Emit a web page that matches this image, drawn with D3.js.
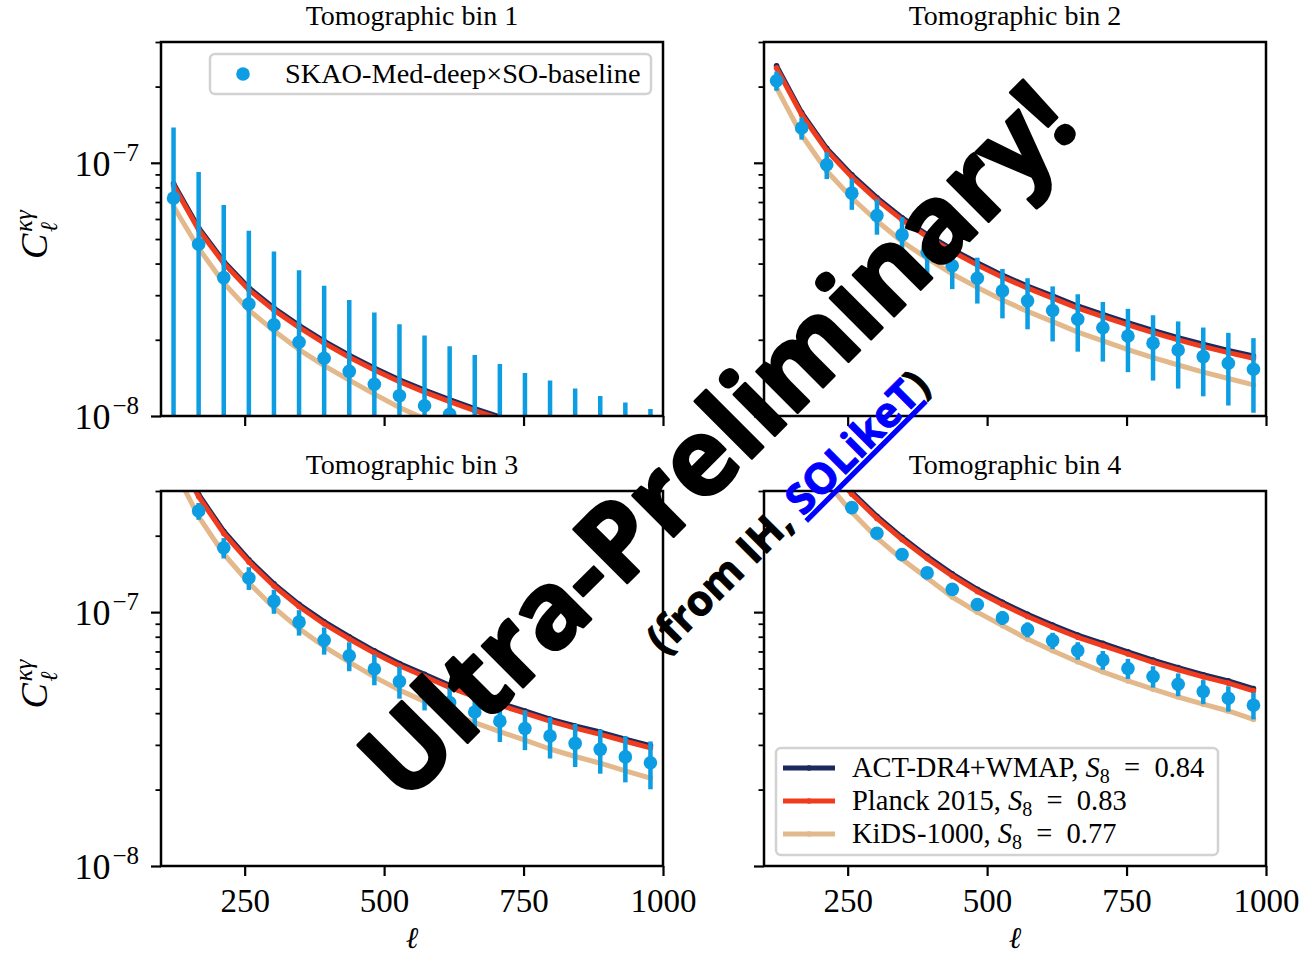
<!DOCTYPE html>
<html>
<head>
<meta charset="utf-8">
<script src="https://cdn.jsdelivr.net/npm/d3@7"></script>
<style>
body{margin:0;background:#fff}
svg{display:block}
</style>
</head>
<body>
<svg id="fig" width="1316" height="957"></svg>
<script>
// multipole bin centres (shared by all panels)
const ELL=[122.5,167.5,212.5,257.5,302.5,347.5,392.5,437.5,482.5,527.5,572.5,617.5,662.5,707.5,752.5,797.5,842.5,887.5,932.5,977.5];
const XLIM=[100,1000];
const YLIM=[1e-8,3e-7];
const XTICKS=[250,500,750,1000];
const YMAJOR=[1e-8,1e-7];
const YMINOR=[2e-8,3e-8,4e-8,5e-8,6e-8,7e-8,8e-8,9e-8,2e-7,3e-7];
const TITLES=["Tomographic bin 1","Tomographic bin 2","Tomographic bin 3","Tomographic bin 4"];

// bin 1
const ACT1=[8.28e-8,5.54e-8,4.08e-8,3.21e-8,2.67e-8,2.28e-8,1.975e-8,1.737e-8,1.547e-8,1.39e-8,1.265e-8,1.16e-8,1.07e-8,0.993e-8,0.925e-8,0.865e-8,0.81e-8,0.76e-8,0.715e-8,0.675e-8];
const PLANCK1=[8.13e-8,5.44e-8,4.01e-8,3.15e-8,2.62e-8,2.24e-8,1.94e-8,1.706e-8,1.52e-8,1.366e-8,1.243e-8,1.14e-8,1.05e-8,0.975e-8,0.908e-8,0.85e-8,0.795e-8,0.747e-8,0.703e-8,0.663e-8];
const KIDS1=[6.72e-8,4.60e-8,3.35e-8,2.62e-8,2.17e-8,1.83e-8,1.58e-8,1.385e-8,1.22e-8,1.08e-8,0.975e-8,0.89e-8,0.815e-8,0.75e-8,0.695e-8,0.645e-8,0.60e-8,0.56e-8,0.525e-8,0.495e-8];
const DATA1=[7.25e-8,4.77e-8,3.52e-8,2.77e-8,2.29e-8,1.956e-8,1.69e-8,1.50e-8,1.335e-8,1.203e-8,1.098e-8,1.016e-8,0.94e-8,0.875e-8,0.82e-8,0.77e-8,0.725e-8,0.685e-8,0.65e-8,0.615e-8];
const ERR1=[6.54e-8,4.42e-8,3.30e-8,2.62e-8,2.17e-8,1.81e-8,1.58e-8,1.37e-8,1.23e-8,1.10e-8,0.98e-8,0.87e-8,0.80e-8,0.73e-8,0.66e-8,0.61e-8,0.56e-8,0.515e-8,0.48e-8,0.45e-8];

// bin 2
const ACT2=[2.414e-7,1.579e-7,1.140e-7,8.96e-8,7.28e-8,6.07e-8,5.21e-8,4.55e-8,4.03e-8,3.60e-8,3.26e-8,2.98e-8,2.72e-8,2.52e-8,2.34e-8,2.18e-8,2.04e-8,1.92e-8,1.815e-8,1.725e-8];
const PLANCK2=[2.367e-7,1.548e-7,1.118e-7,8.78e-8,7.14e-8,5.95e-8,5.11e-8,4.46e-8,3.95e-8,3.53e-8,3.20e-8,2.92e-8,2.665e-8,2.47e-8,2.29e-8,2.135e-8,2.00e-8,1.88e-8,1.78e-8,1.69e-8];
const KIDS2=[1.976e-7,1.288e-7,9.28e-8,7.26e-8,5.89e-8,4.89e-8,4.19e-8,3.64e-8,3.22e-8,2.87e-8,2.59e-8,2.36e-8,2.145e-8,1.98e-8,1.83e-8,1.70e-8,1.59e-8,1.49e-8,1.406e-8,1.327e-8];
const DATA2=[2.11e-7,1.372e-7,9.82e-8,7.59e-8,6.19e-8,5.19e-8,4.44e-8,3.92e-8,3.50e-8,3.12e-8,2.85e-8,2.61e-8,2.41e-8,2.23e-8,2.07e-8,1.94e-8,1.823e-8,1.716e-8,1.615e-8,1.53e-8];
const ERR2=[1.85e-8,1.38e-8,1.2e-8,1.07e-8,0.99e-8,0.90e-8,0.82e-8,0.75e-8,0.72e-8,0.69e-8,0.65e-8,0.64e-8,0.615e-8,0.59e-8,0.58e-8,0.56e-8,0.54e-8,0.52e-8,0.515e-8,0.50e-8];

// bin 3
const ACT3=[4.48e-7,2.908e-7,2.082e-7,1.609e-7,1.292e-7,1.073e-7,9.17e-8,8.00e-8,7.04e-8,6.27e-8,5.69e-8,5.15e-8,4.74e-8,4.39e-8,4.08e-8,3.79e-8,3.56e-8,3.37e-8,3.16e-8,2.98e-8];
const PLANCK3=[4.39e-7,2.851e-7,2.041e-7,1.577e-7,1.267e-7,1.052e-7,8.99e-8,7.84e-8,6.90e-8,6.15e-8,5.58e-8,5.05e-8,4.65e-8,4.30e-8,4.00e-8,3.72e-8,3.49e-8,3.30e-8,3.10e-8,2.92e-8];
const KIDS3=[3.69e-7,2.378e-7,1.694e-7,1.303e-7,1.041e-7,8.61e-8,7.32e-8,6.35e-8,5.56e-8,4.93e-8,4.45e-8,4.01e-8,3.67e-8,3.38e-8,3.13e-8,2.89e-8,2.70e-8,2.54e-8,2.37e-8,2.22e-8];
const DATA3=[3.95e-7,2.501e-7,1.792e-7,1.363e-7,1.105e-7,9.13e-8,7.75e-8,6.73e-8,5.97e-8,5.33e-8,4.83e-8,4.40e-8,4.04e-8,3.72e-8,3.48e-8,3.25e-8,3.04e-8,2.88e-8,2.69e-8,2.55e-8];
const ERR3=[2.6e-8,1.9e-8,1.65e-8,1.4e-8,1.2e-8,1.05e-8,0.95e-8,0.88e-8,0.82e-8,0.77e-8,0.73e-8,0.70e-8,0.67e-8,0.64e-8,0.62e-8,0.60e-8,0.585e-8,0.57e-8,0.555e-8,0.545e-8];

// bin 4
const ACT4=[8.57e-7,5.51e-7,3.91e-7,2.97e-7,2.387e-7,1.971e-7,1.658e-7,1.416e-7,1.230e-7,1.093e-7,9.80e-8,8.89e-8,8.12e-8,7.53e-8,6.98e-8,6.47e-8,6.05e-8,5.67e-8,5.36e-8,5.00e-8];
const PLANCK4=[8.4e-7,5.4e-7,3.83e-7,2.912e-7,2.34e-7,1.932e-7,1.625e-7,1.388e-7,1.206e-7,1.072e-7,9.61e-8,8.72e-8,7.96e-8,7.38e-8,6.84e-8,6.34e-8,5.93e-8,5.56e-8,5.25e-8,4.90e-8];
const KIDS4=[7.1e-7,4.55e-7,3.24e-7,2.472e-7,1.962e-7,1.615e-7,1.363e-7,1.147e-7,1.0e-7,8.85e-8,7.84e-8,7.05e-8,6.38e-8,5.82e-8,5.36e-8,4.97e-8,4.63e-8,4.34e-8,4.08e-8,3.78e-8];
const DATA4=[7.5e-7,4.8e-7,3.4e-7,2.58e-7,2.046e-7,1.686e-7,1.427e-7,1.229e-7,1.072e-7,9.49e-8,8.53e-8,7.72e-8,7.05e-8,6.48e-8,6.00e-8,5.58e-8,5.20e-8,4.87e-8,4.58e-8,4.30e-8];
const ERR4=[1.1e-8,0.95e-8,0.85e-8,0.75e-8,0.70e-8,0.67e-8,0.65e-8,0.63e-8,0.61e-8,0.59e-8,0.58e-8,0.57e-8,0.56e-8,0.55e-8,0.545e-8,0.54e-8,0.535e-8,0.53e-8,0.525e-8,0.52e-8];

const MODEL_NAMES=["ACT-DR4+WMAP, ","Planck 2015, ","KiDS-1000, "];
const MODEL_S8=["0.84","0.83","0.77"];
const DATA_NAME="SKAO-Med-deep\u00d7SO-baseline";

const COL_ACT="#1b2a5c", COL_PLANCK="#f03c1e", COL_KIDS="#e3b98c", COL_DATA="#0c9de2";
const SERIF="'Liberation Serif','Times New Roman',serif";

const boxes=[
  {x0:161,x1:663,y0:42,y1:416,ylab:true,xlab:false},
  {x0:764,x1:1266,y0:42,y1:416,ylab:false,xlab:false},
  {x0:161,x1:663,y0:491,y1:866,ylab:true,xlab:true},
  {x0:764,x1:1266,y0:491,y1:866,ylab:false,xlab:true}
];
const series=[
  [ACT1,PLANCK1,KIDS1,DATA1,ERR1],
  [ACT2,PLANCK2,KIDS2,DATA2,ERR2],
  [ACT3,PLANCK3,KIDS3,DATA3,ERR3],
  [ACT4,PLANCK4,KIDS4,DATA4,ERR4]
];

const svg=d3.select("#fig");
svg.append("rect").attr("width",1316).attr("height",957).attr("fill","#fff");
const defs=svg.append("defs");

boxes.forEach((b,k)=>{
  const [act,planck,kids,data,err]=series[k];
  const x=d3.scaleLinear().domain(XLIM).range([b.x0,b.x1]);
  const y=d3.scaleLog().domain(YLIM).range([b.y1,b.y0]);

  defs.append("clipPath").attr("id","clip"+k).append("rect")
    .attr("x",b.x0).attr("y",b.y0).attr("width",b.x1-b.x0).attr("height",b.y1-b.y0);

  const g=svg.append("g");
  const plot=g.append("g").attr("clip-path","url(#clip"+k+")");

  // theory curves
  const line=d3.line().x((d,i)=>x(ELL[i])).y(d=>y(d));
  [[act,COL_ACT],[planck,COL_PLANCK],[kids,COL_KIDS]].forEach(([vals,col])=>{
    plot.append("path").datum(vals).attr("d",line)
      .attr("fill","none").attr("stroke",col).attr("stroke-width",5)
      .attr("stroke-linejoin","round").attr("stroke-linecap","round");
    plot.append("g").selectAll("circle").data(vals).join("circle")
      .attr("cx",(d,i)=>x(ELL[i])).attr("cy",d=>y(d)).attr("r",2.8).attr("fill",col);
  });

  // data with error bars
  plot.append("g").selectAll("line").data(data).join("line")
    .attr("x1",(d,i)=>x(ELL[i])).attr("x2",(d,i)=>x(ELL[i]))
    .attr("y1",(d,i)=>y(Math.max(d-err[i],1e-12)))
    .attr("y2",(d,i)=>y(d+err[i]))
    .attr("stroke",COL_DATA).attr("stroke-width",4.5);
  plot.append("g").selectAll("circle").data(data).join("circle")
    .attr("cx",(d,i)=>x(ELL[i])).attr("cy",d=>y(d)).attr("r",6.8).attr("fill",COL_DATA);

  // x axis
  const xa=g.append("g").attr("transform","translate(0,"+b.y1+")")
    .call(d3.axisBottom(x).tickValues(XTICKS).tickSize(10).tickPadding(13)
      .tickFormat(b.xlab?d3.format("d"):()=>""));
  // y axis: major + minor
  const ya=g.append("g").attr("transform","translate("+b.x0+",0)")
    .call(d3.axisLeft(y).tickValues(YMAJOR).tickSize(10).tickFormat(()=>""));
  const ym=g.append("g").attr("transform","translate("+b.x0+",0)")
    .call(d3.axisLeft(y).tickValues(YMINOR).tickSize(5.5).tickFormat(()=>""));
  [xa,ya,ym].forEach(a=>{
    a.select(".domain").remove();
    a.selectAll(".tick line").attr("stroke","#000").attr("stroke-width",2.2);
    a.selectAll("text").attr("font-family",SERIF).attr("font-size",33).attr("fill","#000");
  });
  ym.selectAll(".tick line").attr("stroke-width",1.8);

  if(b.ylab){
    YMAJOR.forEach(v=>{
      const t=g.append("text").attr("x",b.x0-22).attr("y",y(v)+13)
        .attr("text-anchor","end").attr("font-family",SERIF).attr("font-size",36);
      t.append("tspan").text("10");
      t.append("tspan").attr("dy",-15).attr("dx",2).attr("font-size",25).text("\u2212"+(-Math.round(Math.log10(v))));
    });
    const yl=g.append("g").attr("transform","translate(47,"+((b.y0+b.y1)/2+30)+") rotate(-90)")
      .attr("font-family",SERIF).attr("font-style","italic");
    yl.append("text").attr("x",0).attr("y",0).attr("font-size",38).text("C");
    yl.append("text").attr("x",27).attr("y",-15).attr("font-size",25).text("\u03ba\u03b3");
    yl.append("text").attr("x",27).attr("y",10).attr("font-size",24).text("\u2113");
  }
  if(b.xlab){
    g.append("text").attr("x",(b.x0+b.x1)/2).attr("y",948).attr("text-anchor","middle")
      .attr("font-family",SERIF).attr("font-style","italic").attr("font-size",30).text("\u2113");
  }

  // title
  g.append("text").attr("x",(b.x0+b.x1)/2).attr("y",b.y0-17).attr("text-anchor","middle")
    .attr("font-family",SERIF).attr("font-size",28).text(TITLES[k]);

  // frame
  g.append("rect").attr("x",b.x0).attr("y",b.y0).attr("width",b.x1-b.x0).attr("height",b.y1-b.y0)
    .attr("fill","none").attr("stroke","#000").attr("stroke-width",2.5);
});

// legend: data (panel 1)
const l1=svg.append("g").attr("font-family",SERIF).attr("font-size",28.3);
l1.append("rect").attr("x",210).attr("y",54).attr("width",441).attr("height",40).attr("rx",5)
  .attr("fill","#fff").attr("fill-opacity",0.8).attr("stroke","#d2d2d2").attr("stroke-width",2.5);
l1.append("circle").attr("cx",243).attr("cy",74).attr("r",6.8).attr("fill",COL_DATA);
l1.append("text").attr("x",285).attr("y",83).text(DATA_NAME);

// legend: models (panel 4)
const l2=svg.append("g").attr("font-family",SERIF).attr("font-size",28.5);
l2.append("rect").attr("x",776).attr("y",748).attr("width",442).attr("height",107).attr("rx",5)
  .attr("fill","#fff").attr("fill-opacity",0.8).attr("stroke","#d2d2d2").attr("stroke-width",2.5);
[COL_ACT,COL_PLANCK,COL_KIDS].forEach((col,i)=>{
  const yy=768+i*33;
  l2.append("line").attr("x1",783).attr("x2",835).attr("y1",yy).attr("y2",yy)
    .attr("stroke",col).attr("stroke-width",5);
  l2.append("circle").attr("cx",809).attr("cy",yy).attr("r",2.8).attr("fill",col);
  const t=l2.append("text").attr("x",852).attr("y",yy+9);
  t.append("tspan").text(MODEL_NAMES[i]);
  t.append("tspan").attr("font-style","italic").text("S");
  t.append("tspan").attr("dy",6).attr("font-size",20).text("8");
  t.append("tspan").attr("dy",-6).text("\u2002=\u2002"+MODEL_S8[i]);
});

// watermark
const wm=svg.append("g").attr("font-family","'Open Sans','DejaVu Sans',sans-serif").attr("font-weight",700)
  .attr("stroke","#000").attr("stroke-linejoin","round");
wm.append("text").attr("transform","translate(743,467) rotate(-45)").attr("text-anchor","middle")
  .attr("font-size",106).attr("fill","#000").attr("stroke-width",3).text("Ultra-Preliminary!");
const sub=wm.append("text").attr("transform","translate(798,522) rotate(-45)").attr("text-anchor","middle")
  .attr("font-size",42).attr("fill","#000").attr("stroke-width",1);
sub.append("tspan").text("(from IH, ");
sub.append("tspan").attr("fill","#0000ff").attr("stroke","#0000ff").attr("text-decoration","underline").text("SOLikeT");
sub.append("tspan").text(")");
</script>
</body>
</html>
